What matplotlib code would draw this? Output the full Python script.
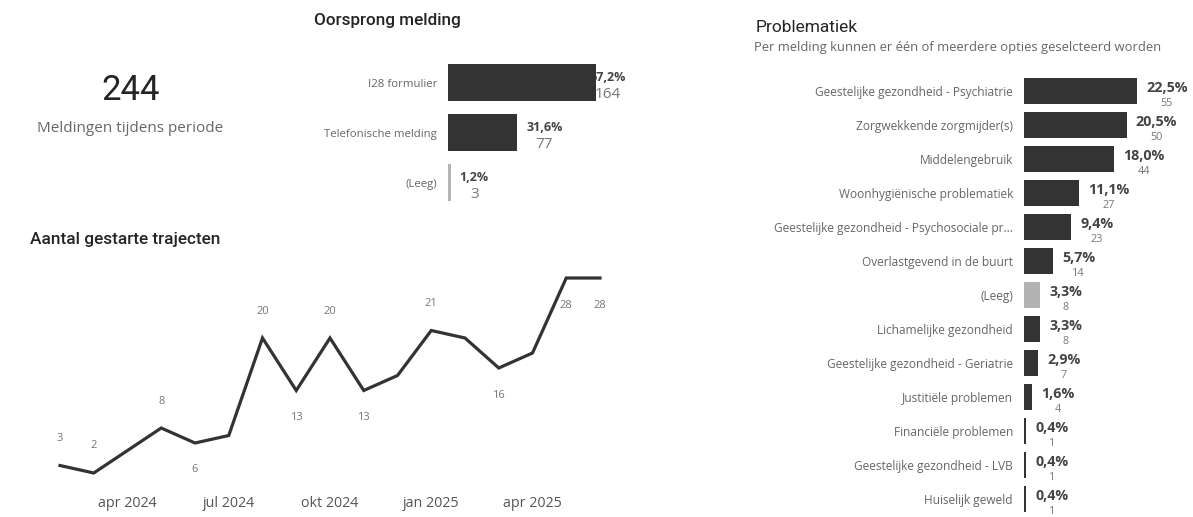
import matplotlib
matplotlib.use('Agg')
import matplotlib.pyplot as plt

plt.rcParams['font.family'] = ['Open Sans', 'DejaVu Sans']

W, H = 1193, 517

# --- data ---
totaal_meldingen = 244

oorsprong_cat = ['I28 formulier', 'Telefonische melding', '(Leeg)']
oorsprong_n = [164, 77, 3]
oorsprong_pct = ['67,2%', '31,6%', '1,2%']

maanden = ['feb 2024', 'mrt 2024', 'apr 2024', 'mei 2024', 'jun 2024', 'jul 2024',
           'aug 2024', 'sep 2024', 'okt 2024', 'nov 2024', 'dec 2024', 'jan 2025',
           'feb 2025', 'mrt 2025', 'apr 2025', 'mei 2025', 'jun 2025']
trajecten = [3, 2, 5, 8, 6, 7, 20, 13, 20, 13, 15, 21, 20, 16, 18, 28, 28]
tick_maanden = ['apr 2024', 'jul 2024', 'okt 2024', 'jan 2025', 'apr 2025']

problem_cat = ['Geestelijke gezondheid - Psychiatrie', 'Zorgwekkende zorgmijder(s)',
               'Middelengebruik', 'Woonhygiënische problematiek',
               'Geestelijke gezondheid - Psychosociale pr...', 'Overlastgevend in de buurt',
               '(Leeg)', 'Lichamelijke gezondheid', 'Geestelijke gezondheid - Geriatrie',
               'Justitiële problemen', 'Financiële problemen',
               'Geestelijke gezondheid - LVB', 'Huiselijk geweld']
problem_n = [55, 50, 44, 27, 23, 14, 8, 8, 7, 4, 1, 1, 1]
problem_pct = ['22,5%', '20,5%', '18,0%', '11,1%', '9,4%', '5,7%', '3,3%', '3,3%',
               '2,9%', '1,6%', '0,4%', '0,4%', '0,4%']

DARK = '#333333'
GREY_BAR = '#b3b3b3'
TITLE = '#252423'
LABEL = '#666666'
TITLE_FONT = ['Roboto', 'DejaVu Sans']


def px_axes(fig, left, top, right, bottom):
    return fig.add_axes([left / W, 1 - bottom / H, (right - left) / W, (bottom - top) / H])


def ftext(fig, x, y, s, **kw):
    fig.text(x / W, 1 - y / H, s, **kw)


def hbar_panel(ax, cats, vals, pcts, px_per_unit, width_px, bar_h, pct_size, n_size,
               pct_dy, n_dy, cat_size, cat_pad, right_px):
    colors = [GREY_BAR if c == '(Leeg)' else DARK for c in cats]
    y = list(range(len(cats)))
    ax.barh(y, vals, height=bar_h, color=colors, zorder=2)
    ax.set_xlim(0, width_px / px_per_unit)
    ax.set_ylim(len(cats) - 0.5, -0.5)
    ax.set_yticks(y)
    ax.set_yticklabels(cats, fontsize=cat_size, color=LABEL)
    ax.tick_params(axis='y', length=0, pad=cat_pad)
    ax.set_xticks([])
    for s in ax.spines.values():
        s.set_visible(False)
    labels = []
    for i, (v, p) in enumerate(zip(vals, pcts)):
        t = ax.annotate(p, xy=(v, i), xytext=(9, pct_dy), textcoords='offset pixels',
                        ha='left', va='center', fontsize=pct_size, fontweight='bold',
                        color='#444444', zorder=1, annotation_clip=False)
        labels.append(t)
    fig.canvas.draw()
    r = fig.canvas.get_renderer()
    for t, v in zip(labels, vals):
        bb = t.get_window_extent(r)
        shift = 0
        if bb.x1 > right_px:
            # label schuift terug en valt deels achter de balk
            shift = right_px - bb.x1
            t.set_position((9 + shift, pct_dy))
        cx = (bb.x0 + bb.x1) / 2 + shift
        cy = (bb.y0 + bb.y1) / 2
        ax.annotate(str(v), xy=(cx, cy - n_dy), xycoords='figure pixels',
                    ha='center', va='center', fontsize=n_size, color='#777777',
                    zorder=1, annotation_clip=False)


fig = plt.figure(figsize=(W / 100, H / 100), dpi=100)

# --- KPI kaart ---
ftext(fig, 131, 91, str(totaal_meldingen), ha='center', va='center', fontsize=25,
      color=TITLE, family=TITLE_FONT)
ftext(fig, 130.5, 129, 'Meldingen tijdens periode', ha='center', va='center',
      fontsize=11, color=LABEL)

# --- Oorsprong melding ---
ftext(fig, 387, 20, 'Oorsprong melding', ha='center', va='center', fontsize=12.3,
      color=TITLE, fontweight='medium', family=TITLE_FONT)
ax1 = px_axes(fig, 448, 57.5, 620, 207.5)
hbar_panel(ax1, oorsprong_cat, oorsprong_n, oorsprong_pct, 0.9, 172, 0.74,
           9, 11, 5, 17, 8.2, 8, 626)

# --- Aantal gestarte trajecten ---
ftext(fig, 30, 240, 'Aantal gestarte trajecten', ha='left', va='center', fontsize=12.4,
      color=TITLE, fontweight='medium', family=TITLE_FONT)
ax2 = px_axes(fig, 40, 265, 620, 488)
xs = list(range(len(maanden)))
ax2.plot(xs, trajecten, color=DARK, lw=2.3, solid_joinstyle='miter')
ax2.set_xlim(-20 / 33.75, len(maanden) - 1 + 20 / 33.75)
ax2.set_ylim(0, 223 / 7.5)
ax2.set_xticks([maanden.index(m) for m in tick_maanden])
ax2.set_xticklabels(tick_maanden, fontsize=10.3, color='#555555')
ax2.tick_params(axis='x', length=0, pad=6)
ax2.set_yticks([])
for s in ax2.spines.values():
    s.set_visible(False)
# welke punten een label krijgen (+1 boven, -1 onder)
label_pos = {0: 1, 1: 1, 3: 1, 4: -1, 6: 1, 7: -1, 8: 1, 9: -1, 11: 1, 13: -1, 15: -1, 16: -1}
for i, d in label_pos.items():
    ax2.annotate(str(trajecten[i]), xy=(i, trajecten[i]), xytext=(0, 27 * d),
                 textcoords='offset pixels', ha='center', va='center', fontsize=8,
                 color='#777777', annotation_clip=False)

# --- Problematiek ---
ftext(fig, 756, 28, 'Problematiek', ha='left', va='center', fontsize=12.5,
      color=TITLE, family=TITLE_FONT)
ftext(fig, 754, 47, 'Per melding kunnen er één of meerdere opties geselcteerd worden',
      ha='left', va='center', fontsize=9.4, color=LABEL)
ax3 = px_axes(fig, 1024, 74, 1193, 516)
hbar_panel(ax3, problem_cat, problem_n, problem_pct, 2.055, 169, 0.79,
           10.3, 7.8, 3, 16, 8.6, 8, 1193)

fig.savefig('out.png', dpi=100)
